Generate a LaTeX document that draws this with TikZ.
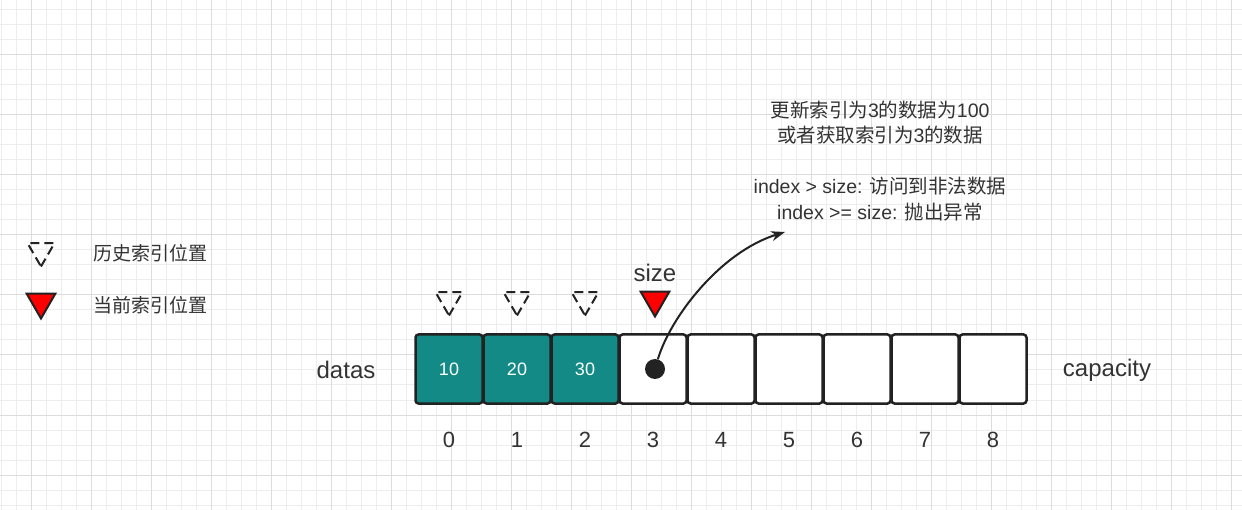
\documentclass[tikz,border=0pt]{standalone}
\usepackage{fontspec}
\setmainfont{Liberation Sans}
\newfontfamily\cjk{Noto Sans CJK SC}
\usetikzlibrary{shapes.geometric, arrows.meta}
\definecolor{cellteal}{HTML}{138A85}
\definecolor{inkgray}{HTML}{222222}
\definecolor{textgray}{HTML}{333333}
\definecolor{gridminor}{HTML}{EDEDED}
\definecolor{gridmajor}{HTML}{DCDCDC}
\tikzset{
  cellbox/.style={draw=inkgray, line width=2.5pt, rounded corners=3pt,
    minimum width=67pt, minimum height=69pt, inner sep=0pt},
  histmark/.style={regular polygon, regular polygon sides=3, shape border rotate=180,
    draw=inkgray, line width=2pt, dash pattern=on 9pt off 5pt,
    minimum size=31pt, inner sep=0pt},
  curmark/.style={regular polygon, regular polygon sides=3, shape border rotate=180,
    draw=inkgray, fill=red, line width=2pt, minimum size=33pt, inner sep=0pt},
  bigtext/.style={text=textgray, font=\fontsize{24}{28}\selectfont},
  idxtext/.style={text=textgray, font=\fontsize{22}{26}\selectfont},
  legtext/.style={text=textgray, anchor=west, inner sep=0pt, font=\fontsize{19}{23}\cjk}
}

\begin{document}
\begin{tikzpicture}[x=1pt, y=-1pt]
  \useasboundingbox (0,0) rectangle (1242,510);
  % Grid
  \fill [white] (0,0) rectangle (1242,510);
  \foreach \x in {1,16,...,1242} \draw [gridminor, line width=1pt] (\x,0) -- (\x,510);
  \foreach \y in {10,25,...,510} \draw [gridminor, line width=1pt] (0,\y) -- (1242,\y);
  \foreach \x in {31,91,...,1242} \draw [gridmajor, line width=1pt] (\x,0) -- (\x,510);
  \foreach \y in {55,115,...,510} \draw [gridmajor, line width=1pt] (0,\y) -- (1242,\y);
  % Legend
  \node [histmark] (leghist) at (41,251) {};
  \node [curmark]  (legcur)  at (41,302) {};
  \node [legtext] (leghisttext) at (93,253) {历史索引位置};
  \node [legtext] (legcurtext)  at (93,305) {当前索引位置};
  % Cells
  \foreach \i/\v in {0/10, 1/20, 2/30}
    \node [cellbox, fill=cellteal, text=white, font=\fontsize{18}{22}\selectfont]
      (c\i) at (449+68*\i,369) {\v};
  \foreach \i in {3,...,8}
    \node [cellbox, fill=white] (c\i) at (449+68*\i,369) {};
  \foreach \i in {0,...,8}
    \node [idxtext] (idx\i) at (449+68*\i,440) {\i};
  \node [bigtext] (datas) at (346,370) {datas};
  \node [bigtext] (capacity) at (1107,370) {capacity};
  % Markers
  \foreach \i in {0,1,2} \node [histmark] (hist\i) at (449+68*\i,300) {};
  \node [curmark] (cur) at (655,300) {};
  \node [bigtext] (sizelabel) at (655,273) {size};
  % Pointer
  \node [circle, fill=inkgray, minimum size=20pt, inner sep=0pt] (dot) at (655,369) {};
  \coordinate (tip) at (785,232);
  \draw [inkgray, line width=2pt, -{Stealth[length=14pt, width=10pt]}]
    (dot) .. controls (670,318) and (720,252) .. (tip);
  % Note
  \node [text=textgray, align=center, font=\fontsize{19.5}{25.5}\selectfont] (note) at (880,161)
    {{\cjk 更新索引为}3{\cjk 的数据为}100\\
     {\cjk 或者获取索引为}3{\cjk 的数据}\\[25.5pt]
     index > size: {\cjk 访问到非法数据}\\
     index >= size: {\cjk 抛出异常}};
\end{tikzpicture}
\end{document}
